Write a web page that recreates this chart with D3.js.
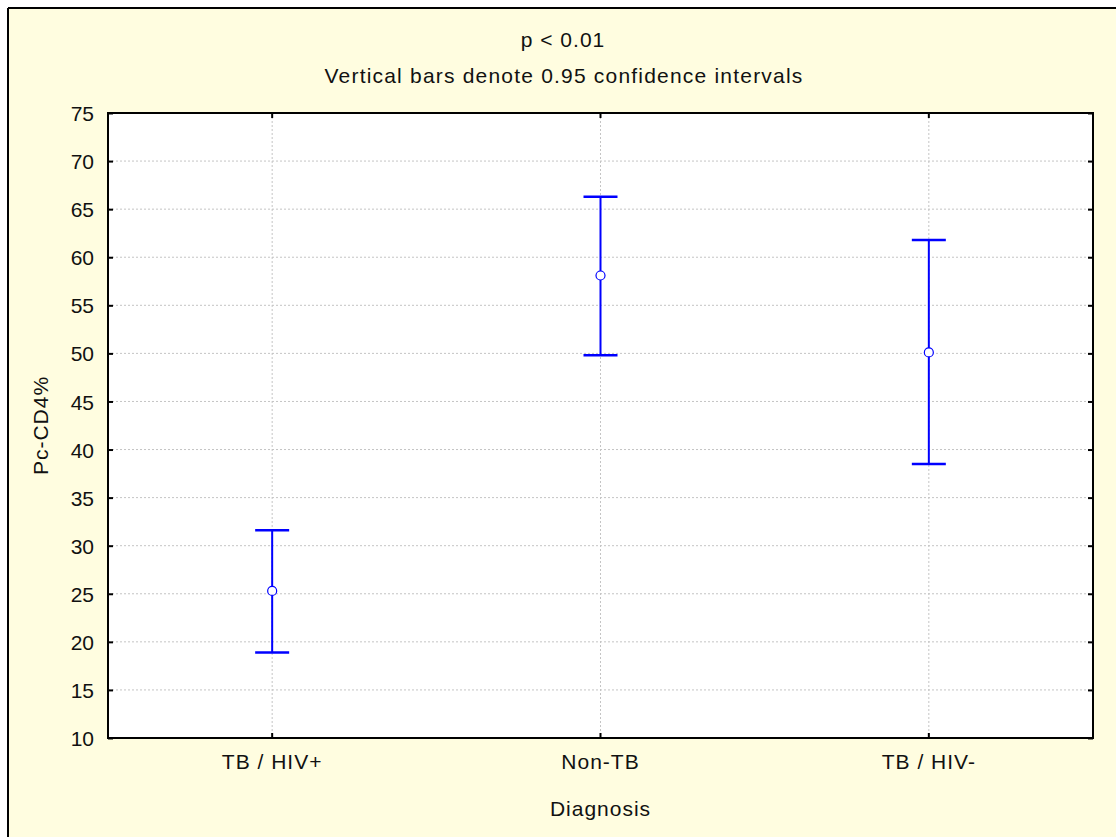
<!DOCTYPE html>
<html>
<head>
<meta charset="utf-8">
<script src="https://cdn.jsdelivr.net/npm/d3@7"></script>
<style>
  html, body { margin: 0; padding: 0; background: #fff; }
  svg { display: block; }
  text { font-family: "Liberation Sans", Arial, sans-serif; fill: #111; }
</style>
</head>
<body>
<svg id="chart" width="1116" height="837"></svg>
<script>
// ---- data ----
const categories = ["TB / HIV+", "Non-TB", "TB / HIV-"];
const means = [25.3, 58.1, 50.1];
const lowerCI = [18.9, 49.8, 38.5];
const upperCI = [31.6, 66.3, 61.8];
const yTicks = [10, 15, 20, 25, 30, 35, 40, 45, 50, 55, 60, 65, 70, 75];
const titleLines = ["p < 0.01", "Vertical bars denote 0.95 confidence intervals"];
const xLabel = "Diagnosis";
const yLabel = "Pc-CD4%";

(function () {
const W = 1116, H = 837;
const plot = { left: 108, top: 113, right: 1093, bottom: 738 };
const svg = d3.select("#chart");

// background & outer frame
svg.append("rect").attr("x", 9).attr("y", 9).attr("width", W - 9).attr("height", H - 9).attr("fill", "#FFFDE0");
svg.append("line").attr("x1", 8).attr("x2", W).attr("y1", 8).attr("y2", 8).attr("stroke", "#000").attr("stroke-width", 2);
svg.append("line").attr("x1", 8).attr("x2", 8).attr("y1", 8).attr("y2", H).attr("stroke", "#000").attr("stroke-width", 2);

// plot area
svg.append("rect").attr("x", plot.left).attr("y", plot.top)
  .attr("width", plot.right - plot.left).attr("height", plot.bottom - plot.top).attr("fill", "#fff");

const x = d3.scaleBand().domain(categories).range([plot.left, plot.right]);
const y = d3.scaleLinear().domain([10, 75]).range([plot.bottom, plot.top]);
const cx = d => x(d) + x.bandwidth() / 2;

// grid
const grid = svg.append("g");
grid.selectAll("line.h").data(yTicks.slice(1, -1)).enter().append("line")
  .attr("x1", plot.left).attr("x2", plot.right)
  .attr("y1", d => y(d)).attr("y2", d => y(d))
  .attr("stroke", "#c4c4c4").attr("stroke-width", 1).attr("stroke-dasharray", "2,2");
grid.selectAll("line.v").data(categories).enter().append("line")
  .attr("x1", d => cx(d)).attr("x2", d => cx(d))
  .attr("y1", plot.top).attr("y2", plot.bottom)
  .attr("stroke", "#c4c4c4").attr("stroke-width", 1).attr("stroke-dasharray", "2,2");

// axes
const fontSize = 21;
function styleAxis(g) {
  g.select(".domain").remove();
  g.selectAll(".tick line").attr("stroke", "#000").attr("stroke-width", 2);
  g.selectAll("text").attr("font-size", fontSize).attr("fill", "#111")
    .attr("font-family", "Liberation Sans, Arial, sans-serif");
}
const axLeft = svg.append("g").attr("transform", `translate(${plot.left},0)`)
  .call(d3.axisLeft(y).tickValues(yTicks).tickSize(-5).tickPadding(14));
styleAxis(axLeft);
axLeft.selectAll("text").attr("dy", "0.36em");
const axRight = svg.append("g").attr("transform", `translate(${plot.right},0)`)
  .call(d3.axisRight(y).tickValues(yTicks).tickSize(-5).tickFormat(""));
styleAxis(axRight);
const axBottom = svg.append("g").attr("transform", `translate(0,${plot.bottom})`)
  .call(d3.axisBottom(x).tickSize(-5).tickPadding(16));
styleAxis(axBottom);
axBottom.selectAll("text").attr("letter-spacing", "1px");
const axTop = svg.append("g").attr("transform", `translate(0,${plot.top})`)
  .call(d3.axisTop(x).tickSize(-5).tickFormat(""));
styleAxis(axTop);

// frame
svg.append("rect").attr("x", plot.left).attr("y", plot.top)
  .attr("width", plot.right - plot.left).attr("height", plot.bottom - plot.top)
  .attr("fill", "none").attr("stroke", "#000").attr("stroke-width", 2);

// error bars
const idx = d3.range(categories.length);
const eb = svg.append("g");
const capW = 17;
eb.selectAll("line.v").data(idx).enter().append("line")
  .attr("x1", i => cx(categories[i])).attr("x2", i => cx(categories[i]))
  .attr("y1", i => y(lowerCI[i])).attr("y2", i => y(upperCI[i]))
  .attr("stroke", "#0000FF").attr("stroke-width", 2);
eb.selectAll("line.cu").data(idx).enter().append("line")
  .attr("x1", i => cx(categories[i]) - capW).attr("x2", i => cx(categories[i]) + capW)
  .attr("y1", i => y(upperCI[i])).attr("y2", i => y(upperCI[i]))
  .attr("stroke", "#0000FF").attr("stroke-width", 2.5);
eb.selectAll("line.cl").data(idx).enter().append("line")
  .attr("x1", i => cx(categories[i]) - capW).attr("x2", i => cx(categories[i]) + capW)
  .attr("y1", i => y(lowerCI[i])).attr("y2", i => y(lowerCI[i]))
  .attr("stroke", "#0000FF").attr("stroke-width", 2.5);
eb.selectAll("circle").data(idx).enter().append("circle")
  .attr("cx", i => cx(categories[i])).attr("cy", i => y(means[i])).attr("r", 4.5)
  .attr("fill", "#fff").attr("stroke", "#0000FF").attr("stroke-width", 1.2);

// titles
svg.append("text").attr("x", 563).attr("y", 47).attr("text-anchor", "middle")
  .attr("font-size", fontSize).attr("letter-spacing", "1px").text(titleLines[0]);
svg.append("text").attr("x", 564).attr("y", 83).attr("text-anchor", "middle")
  .attr("font-size", fontSize).attr("letter-spacing", "1.2px").text(titleLines[1]);

// axis labels
svg.append("text").attr("x", (plot.left + plot.right) / 2).attr("y", 816).attr("text-anchor", "middle")
  .attr("font-size", fontSize).attr("letter-spacing", "1px").text(xLabel);
svg.append("text").attr("transform", `translate(48,${(plot.top + plot.bottom) / 2}) rotate(-90)`)
  .attr("text-anchor", "middle").attr("font-size", fontSize).attr("letter-spacing", "1px").text(yLabel);
})();
</script>
</body>
</html>
